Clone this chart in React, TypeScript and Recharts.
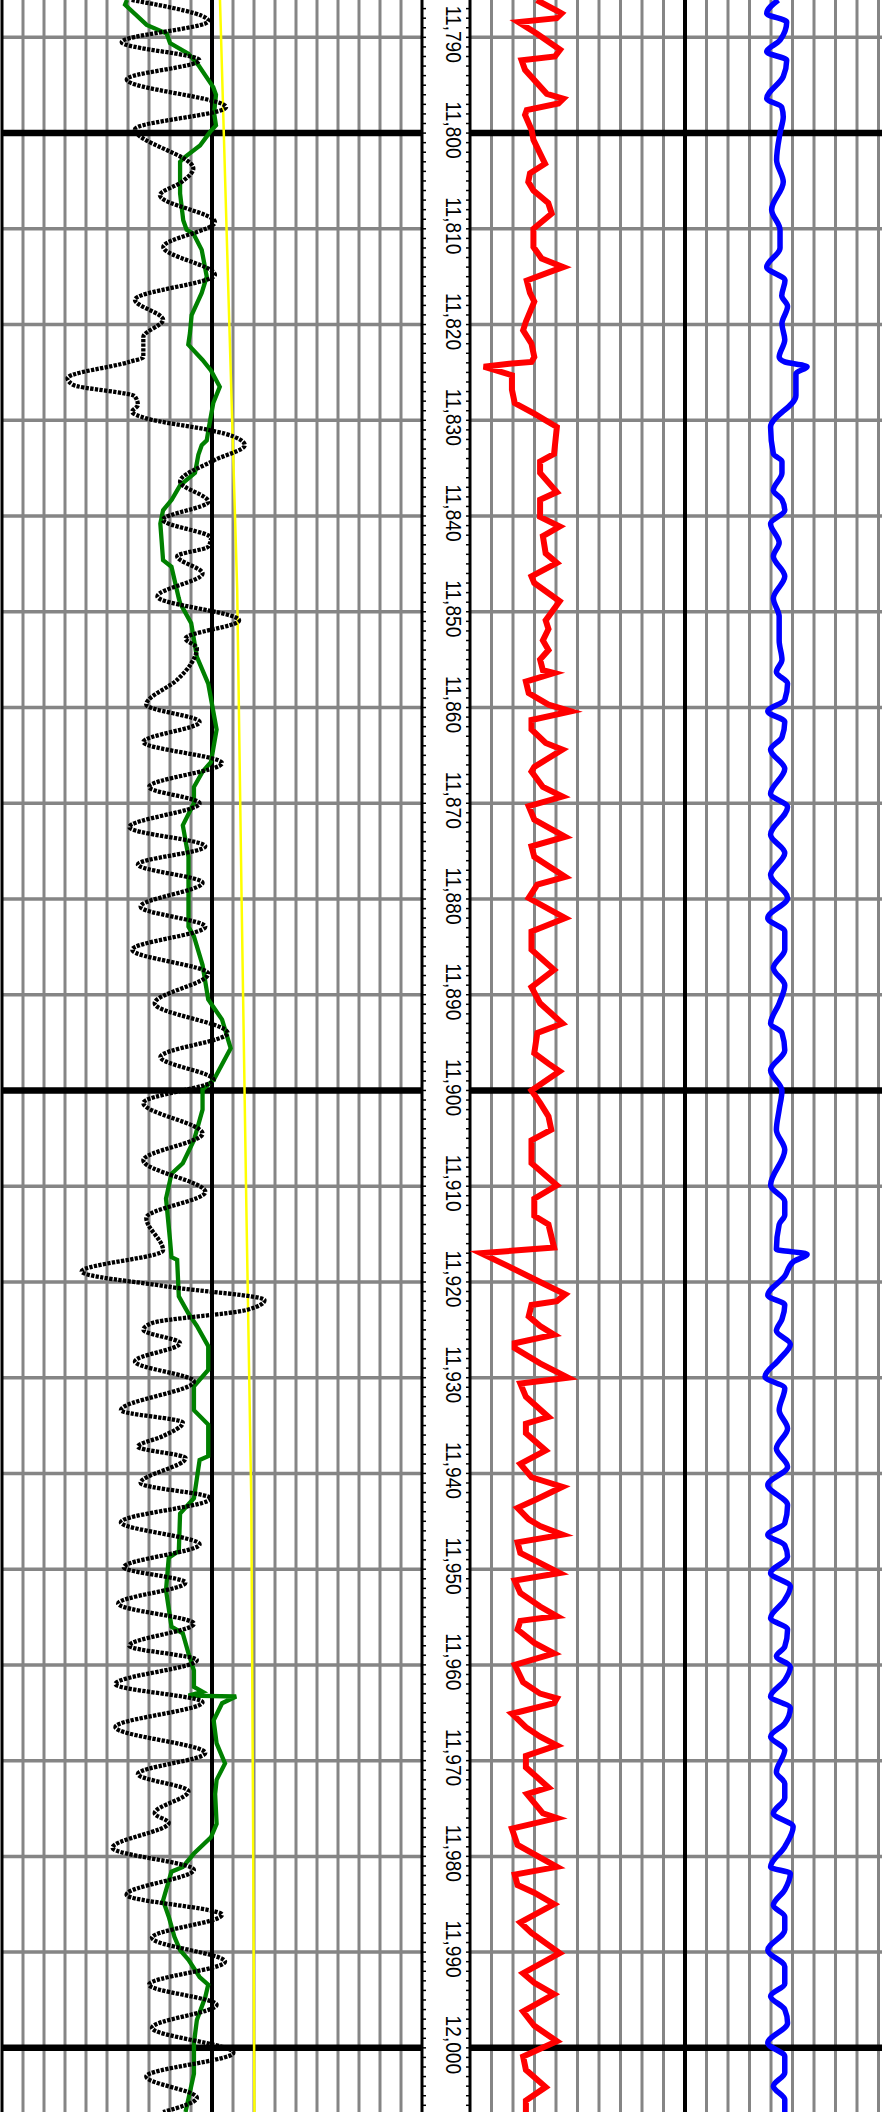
import React from 'react';
import { LineChart, Line, XAxis, YAxis, ReferenceLine } from 'recharts';

// depth window shown on the sheet (ft)
const TOP_DEPTH = 11786.1;
const BOTTOM_DEPTH = 12006.7;

// track scale: 20 divisions of 10 units
const trackTicks = [10, 20, 30, 40, 50, 60, 70, 80, 90, 100, 110, 120, 130, 140, 150, 160, 170, 180, 190];
const depthGrid = [11790, 11800, 11810, 11820, 11830, 11840, 11850, 11860, 11870, 11880, 11890, 11900,
  11910, 11920, 11930, 11940, 11950, 11960, 11970, 11980, 11990, 12000];
const depthMinorTicks = Array.from({ length: 220 }, (_, i) => 11787 + i);

// black dotted curve (left track)
const grDepth = [11786.1, 11788.3, 11790.5, 11792.4, 11794.4, 11797.3, 11799.6, 11803.7, 11805.1, 11806.5,
  11809.3, 11811.9, 11814.8, 11817.4, 11819.5, 11821.3, 11823.4, 11823.9, 11825.6, 11826.3, 11827.5, 11828.4,
  11829.1, 11829.8, 11831.0, 11831.4, 11832.6, 11834.2, 11836.4, 11838.5, 11840.4, 11842.3, 11843.2, 11844.2,
  11846.0, 11848.4, 11850.9, 11852.8, 11853.8, 11855.4, 11857.1, 11859.7, 11861.5, 11863.6, 11865.8, 11868.3,
  11870.0, 11872.5, 11874.5, 11876.4, 11878.3, 11880.8, 11882.9, 11885.3, 11887.8, 11890.9, 11894.0, 11896.5,
  11898.9, 11901.3, 11904.5, 11907.3, 11910.6, 11913.3, 11916.7, 11918.9, 11920.5, 11921.9, 11922.9, 11924.3,
  11925.0, 11926.4, 11928.3, 11930.4, 11933.4, 11934.7, 11936.1, 11937.2, 11938.4, 11941.0, 11942.6, 11945.1,
  11947.4, 11949.8, 11951.4, 11953.6, 11955.7, 11958.0, 11959.5, 11962.0, 11963.9, 11966.5, 11969.2, 11971.4,
  11973.2, 11975.5, 11976.5, 11979.1, 11981.4, 11984.0, 11986.1, 11988.5, 11991.0, 11993.4, 11995.5, 11997.9,
  12000.5, 12003.0, 12005.2, 12006.7];
const grValue = [61.7, 98.3, 57.0, 94.0, 59.4, 106.7, 63.3, 91.1, 85.6, 75.2,
  101.4, 76.8, 101.4, 63.3, 76.7, 67.3, 67.3, 60.6, 31.2, 33.9, 63.3, 64.7,
  62.0, 68.7, 98.2, 106.2, 115.6, 100.8, 84.8, 98.2, 76.7, 99.5, 98.2, 83.4,
  95.5, 74.0, 112.9, 87.4, 92.8, 90.1, 83.4, 68.7, 94.1, 67.3, 104.8, 70.0,
  94.1, 60.6, 96.8, 64.7, 95.5, 66.0, 96.8, 62.0, 98.2, 72.7, 107.5, 75.4,
  100.8, 67.3, 95.5, 67.3, 96.8, 68.7, 76.7, 37.9, 79.4, 125.0, 117.0, 71.4,
  67.3, 84.8, 63.3, 91.4, 56.6, 86.1, 76.7, 64.7, 87.4, 66.0, 99.5, 56.6,
  94.1, 58.0, 87.4, 55.3, 91.4, 60.6, 92.8, 54.0, 95.5, 54.0, 96.8, 64.7,
  88.8, 72.7, 79.4, 52.6, 91.4, 59.3, 104.8, 71.4, 106.2, 70.0, 102.2, 71.4,
  110.2, 68.7, 92.8, 76.7];

// green curve (left track)
const spDepth = [11786.1, 11786.6, 11788.7, 11789.6, 11790.6, 11791.7, 11792.9, 11795.2, 11796.0, 11797.9,
  11799.2, 11799.9, 11801.3, 11802.5, 11803.0, 11806.3, 11809.1, 11810.1, 11810.5, 11812.2, 11815.0, 11816.7,
  11819.0, 11820.9, 11822.1, 11823.7, 11824.8, 11826.5, 11828.2, 11831.0, 11832.1, 11832.6, 11833.6, 11835.5,
  11836.8, 11838.3, 11839.4, 11840.8, 11844.6, 11845.3, 11848.6, 11849.1, 11851.2, 11852.9, 11854.7, 11857.5,
  11862.3, 11865.7, 11866.7, 11868.3, 11870.0, 11872.3, 11875.6, 11879.9, 11882.9, 11883.9, 11886.9, 11890.5,
  11892.6, 11895.6, 11898.9, 11899.9, 11902.0, 11905.2, 11907.6, 11908.7, 11911.3, 11915.6, 11917.4, 11917.7,
  11921.5, 11923.3, 11924.6, 11926.7, 11929.2, 11930.9, 11933.4, 11934.9, 11938.2, 11938.6, 11942.6, 11944.2,
  11948.1, 11948.8, 11952.2, 11956.0, 11956.7, 11958.8, 11960.6, 11962.3, 11962.8, 11963.2, 11963.3, 11964.0,
  11965.8, 11968.2, 11970.3, 11972.0, 11973.5, 11976.6, 11978.0, 11979.7, 11981.1, 11981.6, 11984.6, 11986.3,
  11988.4, 11989.8, 11990.8, 11992.6, 11993.4, 11994.7, 11997.1, 11999.5, 12002.7, 12006.7];
const spValue = [59.5, 58.6, 68.9, 78.4, 80.0, 88.7, 93.5, 100.6, 101.9, 101.0,
  101.9, 99.0, 94.3, 87.1, 84.8, 84.8, 86.3, 87.9, 91.1, 95.1, 97.5, 95.1,
  90.3, 89.5, 88.7, 95.5, 99.5, 103.7, 100.6, 98.3, 97.5, 95.1, 93.5, 91.9,
  84.8, 80.8, 76.7, 75.4, 76.7, 80.7, 84.2, 84.8, 90.1, 91.4, 92.8, 98.2,
  102.2, 99.5, 95.5, 91.4, 91.4, 86.1, 88.8, 88.8, 88.8, 91.4, 95.5, 98.2,
  104.8, 108.9, 100.8, 95.5, 95.5, 91.4, 86.1, 80.7, 78.1, 80.0, 80.7, 83.4,
  84.2, 88.8, 92.8, 98.2, 98.2, 91.4, 91.4, 98.2, 98.2, 94.1, 91.4, 84.8,
  84.2, 79.4, 78.1, 80.7, 86.1, 88.8, 91.4, 91.4, 95.5, 88.8, 111.5, 104.8,
  100.8, 102.2, 106.2, 102.2, 101.5, 102.2, 99.5, 91.4, 86.1, 80.7, 76.7, 79.4,
  82.1, 84.8, 88.8, 94.1, 98.2, 96.8, 92.8, 91.4, 91.4, 87.4];

// yellow curve (left track)
const tempDepth = [11786.1, 11817.4, 11847.7, 11880.1, 11911.4, 11942.8, 11974.1, 12006.7];
const tempValue = [103.8, 107.9, 112.0, 114.1, 116.3, 118.7, 119.5, 120.2];

// red curve (right track)
const redDepth = [11786.1, 11787.2, 11787.5, 11788.0, 11788.4, 11789.6, 11791.3, 11792.0, 11792.4, 11793.4,
  11795.9, 11796.4, 11796.9, 11797.6, 11798.1, 11799.7, 11800.7, 11803.2, 11804.2, 11805.1, 11806.0, 11807.3,
  11808.4, 11810.0, 11811.9, 11813.1, 11814.0, 11814.5, 11815.4, 11816.7, 11817.6, 11819.7, 11820.6, 11822.0,
  11823.4, 11823.9, 11824.1, 11824.4, 11825.3, 11826.8, 11828.2, 11829.3, 11830.7, 11833.5, 11834.3, 11835.5,
  11837.5, 11838.3, 11840.1, 11841.1, 11842.1, 11843.9, 11844.9, 11846.3, 11847.0, 11848.9, 11850.9, 11851.8,
  11853.0, 11854.0, 11855.0, 11856.1, 11856.4, 11857.3, 11858.5, 11859.7, 11860.4, 11861.3, 11862.3, 11863.7,
  11864.4, 11866.2, 11866.7, 11868.3, 11869.3, 11870.3, 11871.7, 11873.5, 11874.5, 11875.6, 11877.7, 11878.5,
  11879.9, 11882.0, 11883.4, 11885.3, 11887.4, 11889.2, 11890.9, 11893.0, 11894.0, 11896.1, 11897.2, 11898.0,
  11900.0, 11901.3, 11902.7, 11904.1, 11905.2, 11907.6, 11909.9, 11911.3, 11913.1, 11914.0, 11916.4, 11917.0,
  11918.4, 11920.0, 11921.3, 11922.0, 11922.4, 11923.6, 11924.6, 11925.5, 11926.4, 11926.9, 11928.5, 11930.0,
  11930.6, 11932.0, 11934.1, 11934.8, 11935.8, 11937.6, 11939.0, 11940.4, 11941.4, 11942.7, 11943.6, 11944.8,
  11945.5, 11946.4, 11947.2, 11948.3, 11950.4, 11951.2, 11952.5, 11953.9, 11954.9, 11955.4, 11956.3, 11957.7,
  11958.8, 11960.0, 11961.8, 11963.0, 11963.5, 11964.0, 11965.1, 11966.5, 11967.5, 11968.4, 11969.5, 11970.7,
  11972.8, 11973.5, 11975.5, 11976.0, 11977.1, 11978.8, 11981.1, 11981.9, 11983.0, 11983.8, 11985.0, 11986.9,
  11988.0, 11990.1, 11992.2, 11993.2, 11994.4, 11996.2, 11997.7, 11999.3, 12000.9, 12002.3, 12004.1, 12005.5,
  12006.7];
const redValue = [31.0, 40.3, 42.6, 40.3, 22.5, 31.0, 41.9, 39.5, 24.0, 25.6,
  35.7, 43.4, 41.1, 26.4, 25.6, 28.7, 29.5, 34.9, 27.9, 27.1, 29.5, 36.4,
  38.0, 29.5, 29.5, 33.3, 43.4, 37.2, 26.4, 27.9, 29.9, 26.0, 24.7, 28.6,
  29.9, 28.6, 18.2, 6.4, 19.5, 19.5, 20.8, 29.9, 40.4, 39.1, 32.6, 32.6,
  40.4, 32.6, 32.6, 41.7, 33.9, 35.2, 40.4, 28.6, 29.9, 41.7, 35.2, 36.5,
  33.9, 36.5, 32.6, 33.9, 39.1, 26.0, 27.3, 36.5, 46.9, 28.6, 28.6, 35.2,
  43.0, 29.9, 28.6, 33.9, 43.0, 27.3, 29.9, 44.3, 28.6, 29.9, 44.3, 31.3,
  27.3, 44.3, 28.6, 28.6, 39.1, 28.6, 32.6, 43.0, 31.3, 29.9, 36.5, 41.7,
  28.6, 32.6, 36.5, 37.8, 28.6, 28.6, 40.4, 29.9, 29.9, 36.5, 39.1, 5.1,
  18.2, 32.6, 44.3, 40.4, 28.6, 27.3, 32.6, 39.1, 20.8, 20.8, 32.6, 45.6,
  23.4, 26.0, 36.5, 26.0, 26.0, 35.2, 23.4, 28.6, 43.0, 31.0, 22.1, 27.3,
  32.6, 43.0, 22.1, 23.4, 41.7, 20.8, 23.4, 32.6, 40.4, 23.4, 22.1, 29.9,
  39.1, 20.8, 24.7, 32.6, 40.4, 39.1, 19.5, 26.0, 32.6, 40.4, 26.0, 26.0,
  36.5, 26.5, 33.9, 40.4, 19.5, 22.1, 40.4, 20.8, 22.1, 29.9, 39.1, 23.4,
  28.6, 41.7, 24.7, 29.9, 39.1, 24.7, 29.9, 40.4, 24.7, 26.0, 35.2, 26.0,
  26.0];

// blue curve (right track)
const blueDepth = [11786.1, 11787.5, 11788.4, 11790.3, 11791.5, 11792.4, 11794.1, 11796.4, 11797.3, 11798.3,
  11800.0, 11802.8, 11805.1, 11808.0, 11810.1, 11812.0, 11814.0, 11815.4, 11817.0, 11818.1, 11819.9, 11821.6,
  11823.4, 11823.9, 11824.4, 11825.1, 11827.4, 11830.7, 11833.5, 11834.3, 11835.5, 11837.3, 11838.3, 11839.4,
  11840.8, 11842.8, 11844.2, 11846.3, 11848.6, 11850.5, 11853.0, 11855.0, 11856.3, 11857.5, 11859.2, 11860.4,
  11861.5, 11863.1, 11864.4, 11866.4, 11869.0, 11870.4, 11873.3, 11875.2, 11877.5, 11879.9, 11882.0, 11883.4,
  11885.3, 11887.2, 11889.0, 11890.9, 11893.0, 11894.0, 11895.8, 11897.9, 11900.0, 11902.0, 11904.1, 11906.2,
  11909.9, 11911.6, 11913.0, 11914.0, 11916.6, 11917.1, 11917.9, 11919.4, 11921.4, 11922.4, 11923.9, 11925.1,
  11926.5, 11928.1, 11929.9, 11931.1, 11933.4, 11935.3, 11937.4, 11939.3, 11941.2, 11943.3, 11945.2, 11946.4,
  11947.5, 11948.7, 11950.4, 11951.8, 11953.2, 11955.1, 11956.3, 11958.1, 11959.1, 11960.2, 11961.6, 11963.3,
  11964.5, 11966.1, 11967.5, 11968.9, 11971.2, 11972.4, 11973.9, 11975.5, 11976.9, 11979.0, 11981.1, 11981.8,
  11983.5, 11985.1, 11986.3, 11987.7, 11989.8, 11991.5, 11993.3, 11994.6, 11996.0, 11997.4, 11999.5, 12000.9,
  12002.6, 12004.0, 12005.4, 12006.7];
const blueValue = [143.4, 138.0, 147.3, 144.2, 138.0, 147.3, 145.7, 138.0, 145.0, 145.7,
  144.2, 142.6, 145.7, 140.3, 144.2, 144.2, 138.0, 146.5, 145.0, 147.7, 145.1, 146.4,
  143.8, 146.4, 156.8, 151.6, 151.6, 139.8, 141.1, 145.1, 145.1, 141.1, 145.1, 146.4,
  139.8, 143.8, 141.1, 146.4, 141.1, 143.8, 143.8, 145.1, 142.5, 147.7, 146.4, 138.5,
  146.4, 145.1, 139.8, 146.4, 139.8, 147.7, 139.8, 146.4, 139.8, 147.7, 138.5, 146.4,
  146.4, 141.1, 146.4, 143.8, 139.8, 145.1, 146.4, 139.8, 145.1, 143.8, 142.5, 146.4,
  139.8, 146.4, 146.4, 143.8, 142.5, 156.8, 150.3, 146.4, 138.5, 146.4, 145.1, 142.5,
  149.0, 143.8, 137.2, 146.4, 143.8, 147.7, 142.5, 147.7, 138.5, 147.7, 146.4, 138.5,
  146.4, 147.7, 139.8, 149.0, 146.4, 139.8, 147.7, 146.4, 142.5, 149.0, 146.4, 139.8,
  149.0, 146.4, 139.8, 146.4, 142.5, 146.4, 146.4, 141.1, 150.3, 146.4, 139.8, 149.0,
  146.4, 141.1, 146.4, 146.4, 138.5, 146.4, 146.4, 139.8, 146.4, 147.7, 138.5, 146.4,
  146.4, 141.1, 146.4, 146.4];

const rows = (depths: number[], values: number[]) => depths.map((depth, i) => ({ depth, value: values[i] }));

const grData = rows(grDepth, grValue);
const spData = rows(spDepth, spValue);
const tempData = rows(tempDepth, tempValue);
const redData = rows(redDepth, redValue);
const blueData = rows(blueDepth, blueValue);

const GRAY = '#858585';
const HEIGHT = 2112;

const gridLines = (id: string) => [
  ...trackTicks.filter((v) => v !== 100).map((v) => (
    <ReferenceLine key={`${id}-v${v}`} x={v} stroke={GRAY} strokeWidth={3} />
  )),
  ...depthGrid.filter((d) => d % 100 !== 0).map((d) => (
    <ReferenceLine key={`${id}-h${d}`} y={d} stroke={GRAY} strokeWidth={3.5} />
  )),
  <ReferenceLine key={`${id}-mid`} x={100} stroke="#000" strokeWidth={4} />,
  <ReferenceLine key={`${id}-edge`} x={0} stroke="#000" strokeWidth={3} />,
  ...depthGrid.filter((d) => d % 100 === 0).map((d) => (
    <ReferenceLine key={`${id}-k${d}`} y={d} stroke="#000" strokeWidth={6.5} />
  )),
];

// 1 ft ticks on both edges of the depth column, rotated label every 10 ft
const DepthTick = ({ x, y, payload }: any) => {
  const d = payload.value;
  return (
    <g>
      <line x1={x} x2={x + 4} y1={y} y2={y} stroke="#000" strokeWidth={1.5} />
      <line x1={x + 44} x2={x + 48} y1={y} y2={y} stroke="#000" strokeWidth={1.5} />
      {d % 10 === 0 && (
        <text
          transform={`translate(${x + 24},${y - 3}) rotate(90) scale(0.87, 1)`}
          textAnchor="middle"
          fontFamily="'Liberation Sans', Arial, sans-serif"
          fontSize={22}
          fill="#000"
        >
          {d.toLocaleString('en-US')}
        </text>
      )}
    </g>
  );
};

export default function App() {
  return (
    <div style={{ position: 'absolute', left: 0, top: 0, width: 882, height: HEIGHT, overflow: 'hidden', background: '#fff' }}>
      <div style={{ position: 'absolute', left: 0, top: 0 }}>
        <LineChart layout="vertical" width={470} height={HEIGHT} margin={{ top: 0, right: 0, bottom: 0, left: 2 }}>
          <XAxis type="number" domain={[0, 200]} allowDataOverflow hide />
          <YAxis
            type="number"
            dataKey="depth"
            domain={[TOP_DEPTH, BOTTOM_DEPTH]}
            allowDataOverflow
            orientation="right"
            width={48}
            ticks={depthMinorTicks}
            interval={0}
            tickLine={false}
            tickSize={0}
            tickMargin={0}
            axisLine={{ stroke: '#000', strokeWidth: 3 }}
            tick={<DepthTick />}
          />
          {gridLines('left')}
          <Line data={tempData} dataKey="value" type="linear" stroke="#ffff00" strokeWidth={2.5} dot={false} isAnimationActive={false} />
          <Line data={spData} dataKey="value" type="linear" stroke="#008000" strokeWidth={4.3} dot={false} isAnimationActive={false} />
          <Line data={grData} dataKey="value" type="monotone" stroke="#000" strokeWidth={4.3} strokeDasharray="3.3 1.3" dot={false} isAnimationActive={false} />
        </LineChart>
      </div>
      <div style={{ position: 'absolute', left: 468, top: 0 }}>
        <LineChart layout="vertical" width={434} height={HEIGHT} margin={{ top: 0, right: 2, bottom: 0, left: 2 }}>
          <XAxis type="number" domain={[0, 200]} allowDataOverflow hide />
          <YAxis type="number" dataKey="depth" domain={[TOP_DEPTH, BOTTOM_DEPTH]} allowDataOverflow hide />
          {gridLines('right')}
          <Line data={redData} dataKey="value" type="linear" stroke="#ff0000" strokeWidth={6} dot={false} isAnimationActive={false} />
          <Line data={blueData} dataKey="value" type="monotone" stroke="#0000ff" strokeWidth={5.5} dot={false} isAnimationActive={false} />
        </LineChart>
      </div>
    </div>
  );
}
